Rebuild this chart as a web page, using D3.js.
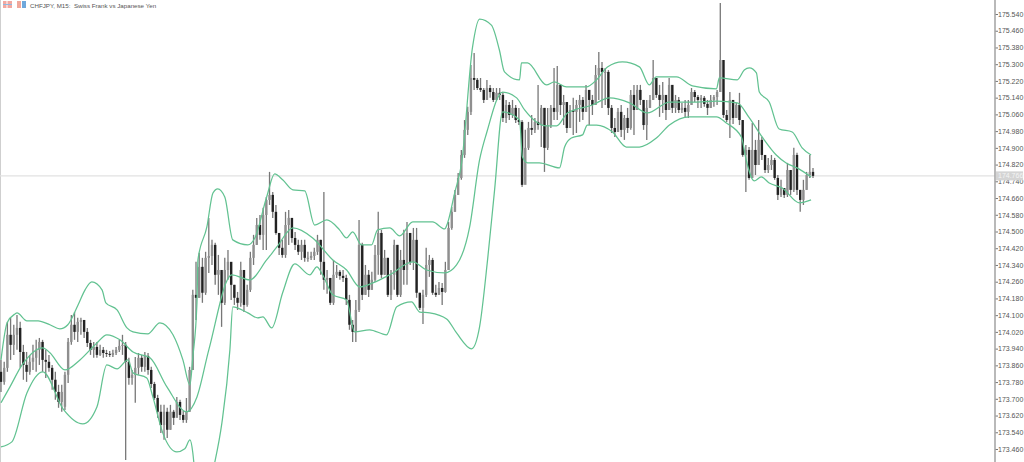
<!DOCTYPE html>
<html><head><meta charset="utf-8">
<script src="https://cdn.jsdelivr.net/npm/d3@7/dist/d3.min.js"></script>
<style>html,body{margin:0;padding:0;background:#fff;overflow:hidden}svg{display:block}text{font-family:"Liberation Sans",Arial,sans-serif}</style>
</head><body><div id="c"></div>
<script>
const highs=[173.886,173.877,174.068,174.087,174.054,174.101,174.068,173.958,173.924,173.910,173.958,173.982,173.991,173.982,173.934,173.910,173.862,173.829,173.767,173.767,173.829,173.991,174.101,174.115,174.087,174.087,174.077,174.039,173.982,173.972,173.972,173.958,173.948,173.934,173.929,173.934,173.948,173.982,174.006,173.972,173.896,173.838,173.900,173.919,173.910,173.924,173.919,173.853,173.781,173.719,173.671,173.671,173.657,173.671,173.647,173.709,173.695,173.642,173.704,173.853,174.221,174.355,174.398,174.374,174.403,174.565,174.460,174.446,174.388,174.307,174.374,174.412,174.340,174.245,174.211,174.355,174.316,174.245,174.403,174.484,174.565,174.579,174.613,174.665,174.785,174.689,174.627,174.493,174.460,174.594,174.603,174.565,174.498,174.460,174.460,174.460,174.403,174.403,174.422,174.484,174.460,174.689,174.316,174.269,174.364,174.340,174.316,174.316,174.293,174.197,174.077,174.173,174.555,174.446,174.340,174.316,174.307,174.436,174.594,174.508,174.412,174.374,174.316,174.460,174.436,174.412,174.508,174.546,174.493,174.517,174.517,174.207,174.221,174.422,174.388,174.374,174.245,174.259,174.254,174.355,174.546,174.617,174.699,174.780,174.890,175.033,175.096,175.296,175.354,175.234,175.234,175.186,175.225,175.201,175.186,175.186,175.186,175.167,175.129,175.119,175.129,175.105,175.091,175.033,174.986,175.024,175.057,175.043,175.201,175.105,175.091,175.091,175.105,175.282,175.291,175.201,175.153,175.119,175.105,175.139,175.129,175.153,175.143,175.201,175.177,175.153,175.296,175.358,175.311,175.282,175.272,175.105,175.043,175.091,175.105,175.057,175.091,175.177,175.201,175.201,175.201,175.129,175.129,175.153,175.320,175.234,175.201,175.215,175.153,175.234,175.201,175.153,175.143,175.115,175.129,175.129,175.186,175.177,175.153,175.153,175.148,175.129,175.153,175.153,175.177,175.593,175.320,175.081,175.167,175.129,175.115,175.163,175.033,174.914,174.904,175.019,174.938,175.033,174.952,174.866,174.852,174.866,174.852,174.770,174.747,174.708,174.828,174.794,174.900,174.876,174.699,174.747,174.785,174.866,174.804];
const lows=[173.733,173.767,173.829,173.886,173.910,173.934,173.848,173.791,173.781,173.815,173.838,173.829,173.862,173.829,173.800,173.829,173.743,173.695,173.657,173.638,173.647,173.776,173.958,173.982,173.972,174.006,173.991,173.948,173.910,173.896,173.896,173.905,173.896,173.900,173.900,173.900,173.910,173.924,173.910,173.408,173.767,173.767,173.681,173.815,173.829,173.829,173.815,173.752,173.695,173.609,173.537,173.504,173.513,173.552,173.575,173.623,173.599,173.585,173.585,173.638,173.838,174.077,174.183,174.159,174.197,174.302,174.340,174.245,174.197,174.044,174.149,174.269,174.173,174.149,174.125,174.140,174.115,174.140,174.211,174.340,174.436,174.460,174.412,174.412,174.627,174.565,174.484,174.388,174.374,174.374,174.436,174.446,174.412,174.388,174.364,174.355,174.355,174.364,174.364,174.388,174.293,174.221,174.202,174.149,174.149,174.278,174.269,174.259,174.149,174.030,173.972,173.972,174.115,174.173,174.197,174.187,174.221,174.259,174.293,174.278,174.293,174.187,174.173,174.221,174.187,174.187,174.245,174.245,174.340,174.316,174.183,174.125,174.058,174.187,174.283,174.197,174.187,174.197,174.149,174.207,174.316,174.508,174.594,174.675,174.747,174.852,174.962,175.057,175.177,175.177,175.167,175.115,175.129,175.139,175.119,175.129,175.129,175.024,175.019,175.033,175.043,175.019,175.009,174.713,174.747,174.890,174.962,174.971,174.986,174.904,174.785,174.890,174.995,175.033,175.033,175.057,175.009,174.971,174.995,174.962,174.971,175.024,175.033,175.072,175.009,175.057,175.105,175.129,175.091,175.105,175.057,174.971,174.952,174.976,174.952,174.938,174.971,174.986,174.962,175.081,175.105,174.986,174.938,175.091,175.129,175.139,175.048,175.067,175.033,175.081,175.067,175.067,175.067,175.067,175.043,175.043,175.105,175.119,175.091,175.091,175.096,175.057,175.091,175.096,175.105,175.167,175.043,175.024,174.947,175.014,175.043,175.009,174.857,174.689,174.747,174.756,174.770,174.818,174.842,174.780,174.780,174.794,174.747,174.651,174.665,174.660,174.665,174.675,174.689,174.675,174.594,174.627,174.699,174.756,174.756];
const opens=[173.829,173.781,173.848,174.006,173.958,174.006,174.039,173.924,173.862,173.829,173.877,173.896,173.934,173.972,173.886,173.877,173.848,173.791,173.733,173.685,173.662,173.815,173.972,174.054,174.020,174.068,174.077,174.020,173.967,173.934,173.948,173.910,173.934,173.919,173.915,173.910,173.919,173.934,173.953,173.958,173.877,173.800,173.815,173.848,173.896,173.853,173.905,173.838,173.771,173.704,173.638,173.575,173.638,173.552,173.638,173.609,173.685,173.623,173.599,173.638,173.838,174.197,174.183,174.331,174.207,174.374,174.383,174.436,174.293,174.316,174.159,174.316,174.355,174.245,174.183,174.159,174.316,174.149,174.221,174.374,174.436,174.531,174.484,174.579,174.651,174.675,174.594,174.493,174.422,174.388,174.531,174.565,174.469,174.436,174.403,174.436,174.374,174.374,174.383,174.403,174.460,174.355,174.269,174.278,174.159,174.293,174.307,174.288,174.278,174.173,174.054,174.020,174.125,174.436,174.197,174.293,174.221,174.269,174.388,174.493,174.293,174.374,174.197,174.293,174.436,174.197,174.364,174.316,174.493,174.355,174.460,174.207,174.135,174.197,174.340,174.364,174.207,174.197,174.230,174.211,174.316,174.517,174.594,174.675,174.756,174.866,174.986,175.072,175.234,175.225,175.186,175.177,175.129,175.186,175.167,175.129,175.163,175.153,175.043,175.105,175.057,175.091,175.033,175.024,174.723,174.900,174.995,174.986,175.024,175.009,175.091,174.900,175.009,175.091,175.072,175.201,175.105,175.119,174.995,175.081,175.072,175.105,175.129,175.072,175.177,175.129,175.105,175.248,175.282,175.263,175.263,175.091,174.995,174.976,175.072,174.986,175.043,174.995,175.153,175.081,175.177,175.129,175.009,175.091,175.129,175.234,175.153,175.129,175.153,175.081,175.201,175.091,175.129,175.081,175.091,175.072,175.105,175.167,175.143,175.129,175.139,175.110,175.091,175.129,175.143,175.167,175.320,175.057,175.033,175.129,175.043,175.105,175.033,174.866,174.890,174.756,174.890,174.818,174.938,174.866,174.794,174.818,174.842,174.756,174.675,174.708,174.675,174.794,174.699,174.866,174.699,174.651,174.699,174.770,174.785];
const closes=[173.781,173.848,174.006,173.958,174.006,174.039,173.924,173.862,173.829,173.877,173.896,173.934,173.972,173.886,173.877,173.848,173.791,173.733,173.685,173.733,173.815,173.972,174.054,174.020,174.068,174.077,174.020,173.967,173.934,173.948,173.910,173.934,173.919,173.915,173.910,173.919,173.934,173.953,173.958,173.877,173.800,173.815,173.848,173.896,173.853,173.905,173.838,173.771,173.704,173.638,173.575,173.638,173.552,173.638,173.609,173.685,173.623,173.599,173.638,173.838,174.197,174.183,174.331,174.207,174.374,174.383,174.436,174.293,174.316,174.159,174.316,174.355,174.245,174.183,174.159,174.316,174.149,174.221,174.374,174.436,174.531,174.484,174.579,174.651,174.675,174.594,174.493,174.422,174.388,174.531,174.565,174.469,174.436,174.403,174.436,174.374,174.374,174.383,174.403,174.460,174.355,174.269,174.278,174.159,174.293,174.307,174.288,174.278,174.173,174.054,174.020,174.125,174.436,174.197,174.293,174.221,174.269,174.388,174.493,174.293,174.374,174.197,174.293,174.436,174.197,174.364,174.316,174.493,174.355,174.460,174.207,174.135,174.197,174.340,174.364,174.207,174.197,174.230,174.211,174.316,174.517,174.594,174.675,174.756,174.866,174.986,175.072,175.234,175.225,175.186,175.177,175.129,175.186,175.167,175.129,175.163,175.153,175.043,175.105,175.057,175.091,175.033,175.024,174.723,174.900,174.995,174.986,175.024,175.009,175.091,174.900,175.009,175.091,175.072,175.201,175.105,175.119,174.995,175.081,175.072,175.105,175.129,175.072,175.177,175.129,175.105,175.248,175.282,175.263,175.263,175.091,174.995,174.976,175.072,174.986,175.043,174.995,175.153,175.081,175.177,175.129,175.009,175.091,175.129,175.234,175.153,175.129,175.153,175.081,175.201,175.091,175.129,175.081,175.091,175.072,175.105,175.167,175.143,175.129,175.139,175.110,175.091,175.129,175.143,175.167,175.320,175.057,175.033,175.129,175.043,175.105,175.033,174.866,174.890,174.756,174.890,174.818,174.938,174.866,174.794,174.818,174.842,174.756,174.675,174.708,174.675,174.794,174.699,174.866,174.699,174.651,174.699,174.770,174.785,174.766];

const upperBars=[0,1.9,4.4,5,8.1,11.6,15.3,18.4,20.9,24.1,26.3,28.4,31.6,32.8,36.3,39.4,41.3,45.9,49.7,53.8,56.9,59.1,60,61.3,61.6,64.4,66.3,67.8,70,72.5,77.2,79.4,83.1,85.6,88.1,91.3,95,98.1,101.9,105.9,108.1,110,112.8,115.9,117.8,121.6,124.7,128.8,135,138.8,139.7,141.9,144.1,147.5,149.7,153.4,155.9,157.5,162.2,162.8,164.7,170.6,173.1,176.9,183.1,186.3,189.7,194.4,199.7,202.8,205,211.3,216.3,223.8,224.7,230.3,232.5,234.1,236.3,237.2,240.3,243.4,247.5,250.6,253.4];
const upperVals=[173.886,174.063,174.106,174.111,174.073,174.073,174.054,174.034,174.054,174.149,174.221,174.259,174.221,174.159,174.125,174.039,174.020,174.010,174.063,174.006,173.886,173.767,173.900,174.159,174.364,174.522,174.684,174.704,174.665,174.460,174.436,174.469,174.665,174.775,174.747,174.699,174.694,174.531,174.555,174.508,174.469,174.498,174.436,174.436,174.508,174.517,174.479,174.546,174.546,174.512,174.541,174.684,174.828,175.382,175.516,175.487,175.368,175.263,175.225,175.306,175.306,175.201,175.215,175.191,175.191,175.225,175.287,175.311,175.287,175.201,175.239,175.239,175.196,175.182,175.234,175.225,175.272,175.282,175.258,175.167,175.119,174.990,174.976,174.900,174.866];
const middleBars=[0,2.8,6.6,13.1,15.3,20,24.7,30,33.1,37.2,41.3,46.6,51.9,58.1,61.3,65,72.2,77.8,83.1,86.3,91.3,97.5,103.8,108.1,112.2,116.3,121.6,128.8,133.1,138.8,142.5,146.6,149.7,151.9,156.9,161.3,163.8,170.6,173.8,177.2,185,190.3,196.6,202.2,209.1,216.3,223.8,230.3,234.1,238.1,242.5,245.6,249,253.4];
const middleVals=[173.681,173.757,173.862,173.944,173.920,173.838,173.886,173.967,174.006,173.982,173.924,173.896,173.757,173.638,173.709,173.934,174.293,174.269,174.364,174.426,174.517,174.469,174.364,174.316,174.235,174.254,174.293,174.355,174.316,174.302,174.340,174.522,174.842,174.971,175.167,175.139,175.081,175.005,175.005,175.067,175.105,175.139,175.115,175.067,175.119,175.119,175.124,175.115,175.043,174.952,174.866,174.828,174.804,174.761];
const lowerBars=[0,3.4,8.1,13.1,19.4,25.6,30,33.1,36.3,39.7,41.3,45.6,47.5,50.6,55,57.5,59.1,60,60.3,61.9,64.7,66.9,69.1,71.6,72.5,77.2,80.3,81.9,84.7,88.1,91.9,96.6,98.8,100.6,103.8,108.1,110.6,115.3,120.6,123.8,128.4,131,134.1,139.4,142.5,147.2,149.7,152.2,154.4,156.9,162.2,163.1,164.7,168.4,174.7,176.3,178.4,181.9,183.4,186.3,191.3,195.6,199.7,205,209.1,215.3,223.8,226.9,231.6,233.1,235.6,237.8,240.3,244.4,249.7,253.4];
const lowerVals=[173.470,173.494,173.728,173.829,173.652,173.580,173.661,173.862,173.843,173.886,173.824,173.800,173.709,173.537,173.446,173.461,173.504,173.442,173.399,173.074,173.265,173.399,173.585,173.934,174.140,174.111,174.087,174.092,174.039,174.207,174.345,174.293,174.331,174.293,174.197,174.173,174.020,174.030,174.006,174.140,174.163,174.115,174.111,174.082,174.015,173.939,174.044,174.364,174.699,175.072,175.033,174.857,174.828,174.828,174.804,174.904,174.947,174.962,175.009,175.009,174.976,174.904,174.904,174.947,175.009,175.048,175.048,175.019,174.952,174.842,174.742,174.761,174.732,174.708,174.637,174.651];

const tickLabels=["175.540","175.460","175.380","175.300","175.220","175.140","175.060","174.980","174.900","174.820","174.740","174.660","174.580","174.500","174.420","174.340","174.260","174.180","174.100","174.020","173.940","173.860","173.780","173.700","173.620","173.540","173.460"];
const lastPrice=174.766;
const titleText="CHFJPY, M15:  Swiss Frank vs Japanese Yen";

const W=1024,H=462;
const svg=d3.select("#c").append("svg").attr("width",W).attr("height",H);
const y=d3.scaleLinear().domain([175.54,173.46]).range([14,449]);
const x=d3.scaleLinear().domain([0,254]).range([1,813]);
const defs=svg.append("defs");
defs.append("clipPath").attr("id","plot").append("rect").attr("x",0).attr("y",0).attr("width",995).attr("height",H);
defs.append("filter").attr("id","soft").attr("x","-2%").attr("y","-2%").attr("width","104%").attr("height","104%")
  .append("feGaussianBlur").attr("stdDeviation",0.4);

svg.append("rect").attr("x",0).attr("y",0).attr("width",1).attr("height",H).attr("fill","#cfcfcf");

const plot=svg.append("g").attr("clip-path","url(#plot)");
plot.append("line").attr("x1",0).attr("x2",995).attr("y1",y(lastPrice)).attr("y2",y(lastPrice)).attr("stroke","#e2e2e2").attr("stroke-width",1.4);

const bars=d3.range(highs.length);
const cg=plot.append("g").attr("filter","url(#soft)");
cg.append("g").selectAll("line").data(bars).join("line")
  .attr("x1",i=>x(i)).attr("x2",i=>x(i)).attr("y1",i=>y(highs[i])).attr("y2",i=>y(lows[i]))
  .attr("stroke","#777").attr("stroke-width",1.3);
cg.append("g").selectAll("rect").data(bars).join("rect")
  .attr("x",i=>x(i)-1.2).attr("width",2.4)
  .attr("y",i=>y(Math.max(opens[i],closes[i])))
  .attr("height",i=>Math.max(1,Math.abs(y(opens[i])-y(closes[i]))))
  .attr("fill",i=>closes[i]>=opens[i]?"#8f8f8f":"#222");

const line=d3.line().curve(d3.curveMonotoneX);
[[upperBars,upperVals],[middleBars,middleVals],[lowerBars,lowerVals]].forEach(([bs,vs])=>{
  plot.append("path").attr("fill","none").attr("stroke","#62c291").attr("stroke-width",1.25)
    .attr("d",line(bs.map((b,k)=>[x(b),y(vs[k])])));
});

const axis=d3.axisRight(y).tickValues(tickLabels.map(Number)).tickFormat((d,k)=>tickLabels[k]).tickSize(3).tickPadding(0);
const ag=svg.append("g").attr("transform","translate(995,0)").call(axis);
ag.select(".domain").remove();
ag.selectAll("line").attr("stroke","#777");
ag.selectAll("text").attr("font-size",7).attr("fill","#555").style("font-family",'"Liberation Sans",Arial,sans-serif');
svg.append("line").attr("x1",995).attr("x2",995).attr("y1",0).attr("y2",H).attr("stroke","#a8a8a8").attr("stroke-width",1.6);

const py=y(lastPrice);
svg.append("rect").attr("x",996).attr("y",py-4.5).attr("width",27).attr("height",9).attr("fill","#d4d4d4");
svg.append("text").attr("x",998).attr("y",py+2.5).attr("font-size",7).attr("fill","#f4f4f4").text(lastPrice.toFixed(3));

const ic=svg.append("g");
ic.append("rect").attr("x",3).attr("y",1).attr("width",9).attr("height",7).attr("fill","#f2a8a0");
ic.append("rect").attr("x",6.5).attr("y",1).attr("width",1).attr("height",7).attr("fill","#fff");
ic.append("rect").attr("x",3).attr("y",4).attr("width",9).attr("height",1).attr("fill","#8fb8e0");
ic.append("rect").attr("x",17).attr("y",1).attr("width",4).attr("height",7).attr("fill","#f0a89c");
ic.append("rect").attr("x",22).attr("y",1).attr("width",4).attr("height",7).attr("fill","#6fa8dc");
svg.append("text").attr("x",30).attr("y",7.5).attr("font-size",6.2).attr("fill","#555").style("white-space","pre").text(titleText);
</script></body></html>
